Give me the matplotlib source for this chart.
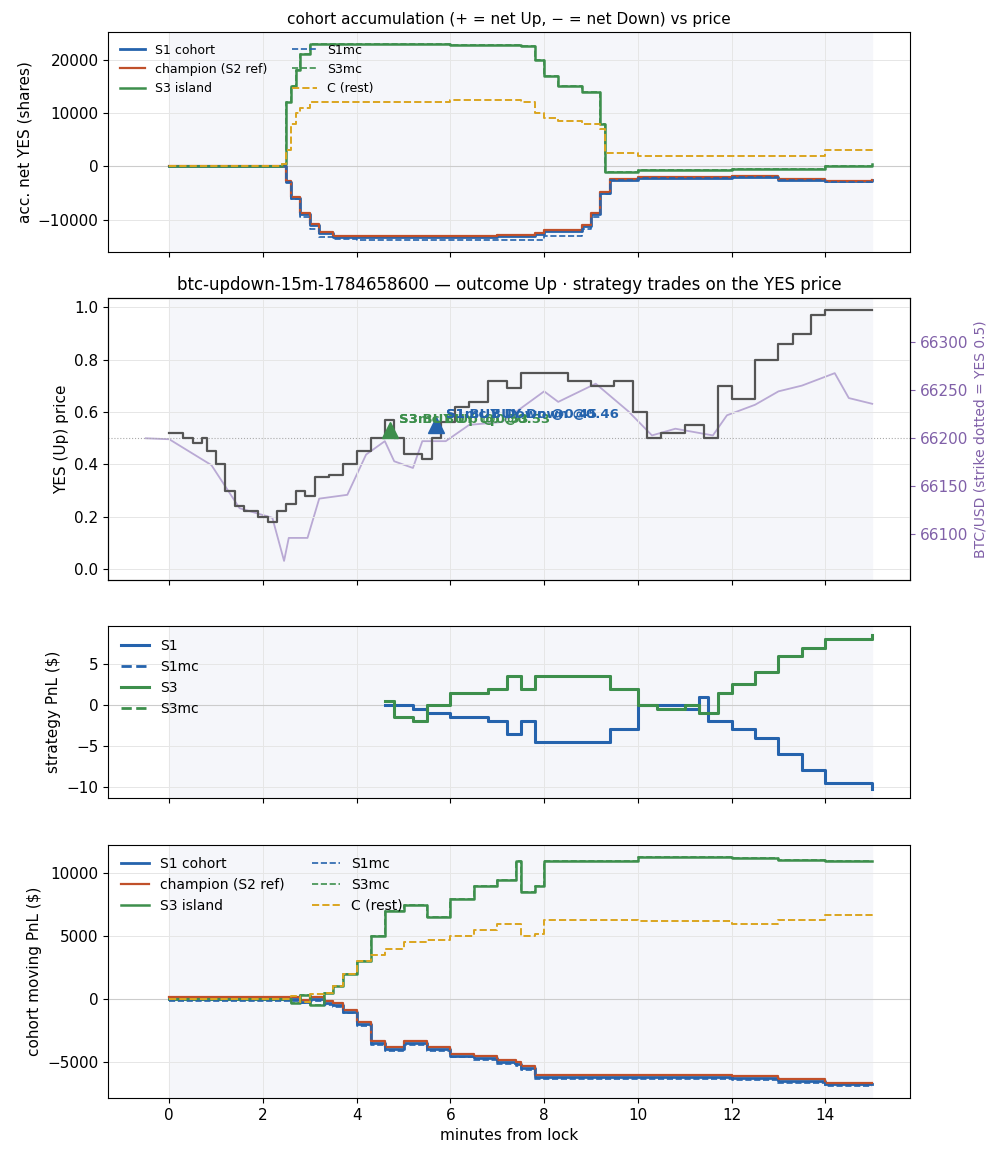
import matplotlib
matplotlib.use('Agg')
import matplotlib.pyplot as plt
import numpy as np

plt.rcParams['font.size'] = 11

BLUE = '#2563ad'
RED = '#c0502a'
GREEN = '#3d8f4c'
GOLD = '#dba520'
GRAY = '#555555'
PURPLE = '#b9a9d4'

# === cohort accumulation (shares) ===
acc_t = [0, 2.4, 2.5, 2.6, 2.8, 3.0, 3.2, 3.5, 4.0, 5.0, 7.0, 7.8, 8.0, 8.8, 9.0, 9.2, 9.4, 10, 12, 13, 14, 15]
acc_s1 = [0, 0, -3000, -6000, -9000, -11000, -12500, -13200, -13300, -13200, -13000, -12700, -12200, -11200, -9000, -5000, -2500, -2200, -2000, -2500, -2800, -2600]
acc_champ = [0, 0, -2800, -5800, -8800, -10800, -12300, -13000, -13100, -13000, -12900, -12500, -12000, -11000, -8800, -4800, -2400, -2100, -1900, -2400, -2700, -2500]
acc_s1mc = [0, 0, -3000, -6200, -9500, -11800, -13200, -13700, -13800, -13800, -13900, -13800, -13000, -11800, -9500, -5200, -2600, -2300, -2100, -2600, -2900, -2700]
acc3_t = [0, 2.4, 2.5, 2.6, 2.7, 2.8, 3.0, 6.0, 7.5, 7.8, 8.0, 8.3, 8.8, 9.2, 9.3, 10, 12, 14, 15]
acc_s3 = [0, 500, 12000, 15000, 18000, 21000, 23000, 22800, 22500, 20000, 17000, 15000, 14000, 8000, -1000, -800, -500, 0, 500]
acc_c = [0, 500, 3000, 8000, 10000, 11000, 12000, 12500, 12000, 10000, 9000, 8500, 8000, 7000, 2500, 2000, 2000, 3000, 2900]

# === YES price and BTC ===
yes_t = [0, 0.3, 0.5, 0.7, 0.8, 1.0, 1.2, 1.4, 1.6, 1.9, 2.1, 2.3, 2.5, 2.7, 2.9, 3.1, 3.4, 3.7, 4.0, 4.3, 4.6, 4.8, 5.0, 5.4, 5.6, 5.8, 6.1, 6.4, 6.8, 7.2, 7.5, 8.5, 9.0, 9.5, 9.9, 10.2, 10.5, 11.0, 11.4, 11.7, 12.0, 12.5, 13.0, 13.3, 13.7, 14.0, 15.0]
yes_p = [0.52, 0.5, 0.48, 0.5, 0.45, 0.4, 0.3, 0.24, 0.22, 0.2, 0.18, 0.22, 0.25, 0.3, 0.28, 0.35, 0.36, 0.4, 0.45, 0.5, 0.57, 0.5, 0.44, 0.42, 0.5, 0.56, 0.62, 0.64, 0.72, 0.69, 0.75, 0.72, 0.7, 0.72, 0.6, 0.5, 0.52, 0.55, 0.5, 0.7, 0.65, 0.8, 0.86, 0.9, 0.97, 0.99, 0.99]
btc_t = [-0.5, 0, 0.9, 1.5, 2.2, 2.45, 2.55, 2.95, 3.2, 3.8, 4.2, 4.6, 4.8, 5.2, 5.4, 5.9, 6.4, 7.1, 8.0, 8.3, 9.1, 9.8, 10.3, 10.8, 11.6, 11.9, 12.5, 13.0, 13.5, 14.2, 14.5, 15.0]
btc_p = [66200, 66199, 66172, 66127, 66117, 66072, 66096, 66096, 66137, 66141, 66183, 66197, 66176, 66169, 66197, 66197, 66214, 66217, 66249, 66238, 66257, 66228, 66203, 66210, 66203, 66224, 66235, 66249, 66255, 66268, 66242, 66236]
trade_t = [4.7, 5.7]
trade_p = [0.53, 0.55]
trade_lbl = [['S3 BUY Up @0.53', 'S3mc BUY Up @0.53'], ['S1 BUY Down @0.45', 'S1mc BUY Down @0.46']]

# === strategy PnL ===
pnl_t = [4.6, 4.8, 5.2, 5.5, 6.0, 6.8, 7.2, 7.5, 7.8, 9.2, 9.4, 10.0, 10.4, 11.0, 11.3, 11.5, 11.7, 12.0, 12.5, 13.0, 13.5, 14.0, 15.0]
pnl_s3 = [0.5, -1.5, -2.0, 0.0, 1.5, 2.0, 3.5, 2.0, 3.5, 3.5, 2.0, 0.0, -0.5, 0.0, -1.0, -1.0, 1.5, 2.5, 4.0, 6.0, 7.0, 8.0, 8.5]
pnl_s1 = [0.0, 0.0, -0.5, -1.0, -1.5, -2.0, -3.5, -2.0, -4.5, -4.5, -3.0, 0.0, 0.0, -0.5, 1.0, -2.0, -2.0, -3.0, -4.0, -6.0, -8.0, -9.5, -10.3]

# === cohort moving PnL ===
mv_t = [0, 2.4, 2.6, 2.8, 3.0, 3.3, 3.5, 3.7, 4.0, 4.3, 4.6, 5.0, 5.5, 6.0, 6.5, 7.0, 7.4, 7.5, 7.8, 8.0, 10, 12, 13, 14, 15]
mv_s3 = [0, 0, -300, 300, -500, 500, 1000, 2000, 3000, 5000, 7000, 7500, 6500, 8000, 9000, 9500, 11000, 8500, 9000, 11000, 11300, 11200, 11100, 11000, 11000]
mv_c = [0, 0, 200, -200, 400, 500, 1000, 2000, 3000, 3500, 4000, 4500, 4700, 5000, 5500, 6000, 6000, 5000, 5200, 6300, 6200, 6000, 6300, 6700, 6800]
mv_s1 = [0, 0, 0, -200, 0, -300, -500, -1000, -2000, -3500, -4000, -3500, -4000, -4500, -4700, -5000, -5200, -5500, -6200, -6200, -6200, -6300, -6500, -6800, -6800]

fig, axes = plt.subplots(4, 1, figsize=(10.03, 11.56), dpi=100, sharex=True,
                         gridspec_kw={'height_ratios': [220, 282, 172, 254]})
plt.subplots_adjust(left=0.108, right=0.907, top=0.972, bottom=0.05, hspace=0.2)

for ax in axes:
    ax.grid(True, color='#e6e6e6', linewidth=0.7)
    ax.set_axisbelow(True)
for i in (0, 2, 3):
    axes[i].axvspan(0, 15, color='#f5f6fa', zorder=0)
axes[0].set_xlim(-1.3, 15.8)

ax = axes[0]
ax.axhline(0, color='#cccccc', linewidth=0.8)
ax.plot(acc_t, acc_s1, drawstyle='steps-post', color=BLUE, lw=2, label='S1 cohort')
ax.plot(acc_t, acc_champ, drawstyle='steps-post', color=RED, lw=1.6, label='champion (S2 ref)')
ax.plot(acc3_t, acc_s3, drawstyle='steps-post', color=GREEN, lw=1.8, label='S3 island')
ax.plot(acc_t, acc_s1mc, drawstyle='steps-post', color=BLUE, lw=1.2, ls='--', label='S1mc')
ax.plot(acc3_t, acc_s3, drawstyle='steps-post', color=GREEN, lw=1.2, ls='--', label='S3mc')
ax.plot(acc3_t, acc_c, drawstyle='steps-post', color=GOLD, lw=1.4, ls='--', label='C (rest)')
ax.set_ylim(-16100, 25100)
ax.set_ylabel('acc. net YES (shares)')
ax.set_title('cohort accumulation (+ = net Up, − = net Down) vs price', fontsize=11)
ax.legend(loc='upper left', ncol=2, fontsize=9, frameon=False)

ax = axes[1]
tw = ax.twinx()
tw.axvspan(0, 15, color='#f5f6fa', zorder=0)
tw.plot(btc_t, btc_p, color=PURPLE, lw=1.3)
tw.set_ylim(66052, 66346)
tw.set_yticks([66100, 66150, 66200, 66250, 66300])
tw.tick_params(axis='y', colors='#8060a8')
tw.set_ylabel('BTC/USD (strike dotted = YES 0.5)', color='#8060a8', fontsize=10)
ax.set_zorder(tw.get_zorder() + 1)
ax.patch.set_visible(False)
ax.axhline(0.5, color='#aaaaaa', lw=0.8, ls=':')
ax.plot(yes_t, yes_p, drawstyle='steps-post', color=GRAY, lw=1.6, zorder=3)
ax.set_ylim(-0.042, 1.034)
ax.set_ylabel('YES (Up) price')
ax.set_title('btc-updown-15m-1784658600 — outcome Up · strategy trades on the YES price', fontsize=12)
for t, p, col, lbls in zip(trade_t, trade_p, [GREEN, BLUE], trade_lbl):
    ax.plot(t, p, marker='^', color=col, markersize=12, zorder=5)
    for lb in lbls:
        ax.annotate(lb, (t, p), xytext=(7, 5), textcoords='offset points',
                    color=col, fontsize=9.5, fontweight='bold', zorder=6)

ax = axes[2]
ax.axhline(0, color='#cccccc', lw=0.8)
ax.plot(pnl_t, pnl_s1, drawstyle='steps-post', color=BLUE, lw=2.2, label='S1')
ax.plot(pnl_t, pnl_s1, drawstyle='steps-post', color=BLUE, lw=2, ls='--', label='S1mc')
ax.plot(pnl_t, pnl_s3, drawstyle='steps-post', color=GREEN, lw=2.2, label='S3')
ax.plot(pnl_t, pnl_s3, drawstyle='steps-post', color=GREEN, lw=2, ls='--', label='S3mc')
ax.set_ylim(-11.4, 9.6)
ax.set_ylabel('strategy PnL ($)')
ax.legend(loc='upper left', fontsize=10, frameon=False)

ax = axes[3]
ax.axhline(0, color='#cccccc', lw=0.8)
ax.plot(mv_t, mv_s1, drawstyle='steps-post', color=BLUE, lw=2, label='S1 cohort')
ax.plot(mv_t, [v + 150 for v in mv_s1], drawstyle='steps-post', color=RED, lw=1.6, label='champion (S2 ref)')
ax.plot(mv_t, mv_s3, drawstyle='steps-post', color=GREEN, lw=1.8, label='S3 island')
ax.plot(mv_t, [v - 150 for v in mv_s1], drawstyle='steps-post', color=BLUE, lw=1.2, ls='--', label='S1mc')
ax.plot(mv_t, mv_s3, drawstyle='steps-post', color=GREEN, lw=1.2, ls='--', label='S3mc')
ax.plot(mv_t, mv_c, drawstyle='steps-post', color=GOLD, lw=1.4, ls='--', label='C (rest)')
ax.set_ylim(-7900, 12300)
ax.set_yticks([-5000, 0, 5000, 10000])
ax.set_ylabel('cohort moving PnL ($)')
ax.set_xlabel('minutes from lock')
ax.legend(loc='upper left', ncol=2, fontsize=10, frameon=False)

fig.savefig('out.png')
